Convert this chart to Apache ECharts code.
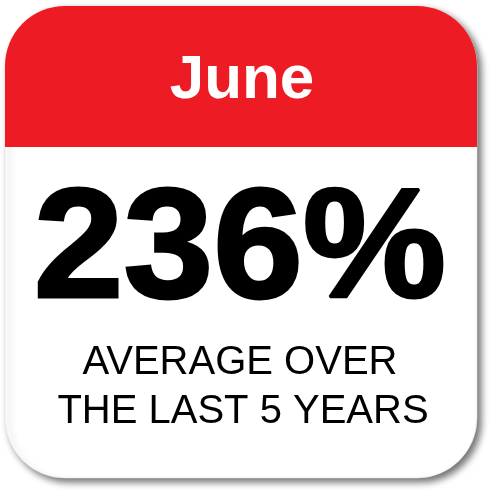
<!DOCTYPE html>
<html>
<head>
<meta charset="utf-8">
<script src="https://cdn.jsdelivr.net/npm/echarts@6/dist/echarts.min.js"></script>
<style>
html,body{margin:0;padding:0;background:#fff;}
#main{width:500px;height:500px;}
</style>
</head>
<body>
<div id="main"></div>
<script>
var monthLabel = ['June'];
var percentValue = [236];
var captionLines = ['AVERAGE OVER', 'THE LAST 5 YEARS'];

var chart = echarts.init(document.getElementById('main'), null, {renderer: 'canvas'});
var FONT = '"Liberation Sans", Arial, Helvetica, sans-serif';

function txt(text, x, y, size, weight, color, sx, strokeW) {
  var st = {
    text: text, x: 0, y: 0, fill: color,
    font: weight + ' ' + size + 'px ' + FONT,
    textAlign: 'center', textVerticalAlign: 'middle',
    align: 'center', verticalAlign: 'middle'
  };
  if (strokeW) { st.stroke = color; st.lineWidth = strokeW; st.lineJoin = 'round'; }
  return { type: 'text', x: x, y: y, scaleX: sx || 1, z: 10, style: st };
}

var elements = [
  { type: 'rect', z: 1,
    shape: { x: 5, y: 6, width: 472, height: 472, r: 60 },
    style: { fill: '#ffffff', stroke: '#e4e4e4', lineWidth: 0.6,
      shadowBlur: 7, shadowOffsetX: 4, shadowOffsetY: 4, shadowColor: 'rgba(0,0,0,0.55)' } },
  { type: 'rect', z: 2,
    shape: { x: 5, y: 6, width: 472, height: 141, r: [60, 60, 0, 0] },
    style: { fill: '#ED1C24' } },
  txt(monthLabel[0], 242, 81, 62, 'bold', '#ffffff'),
  txt(percentValue[0] + '%', 240, 254, 155, 'bold', '#000000', 1.04, 3),
  txt(captionLines[0], 240, 363, 40, 'normal', '#000000'),
  txt(captionLines[1], 243, 412, 40, 'normal', '#000000')
];

chart.setOption({
  backgroundColor: '#ffffff',
  animation: false,
  graphic: { elements: elements }
});
</script>
</body>
</html>
